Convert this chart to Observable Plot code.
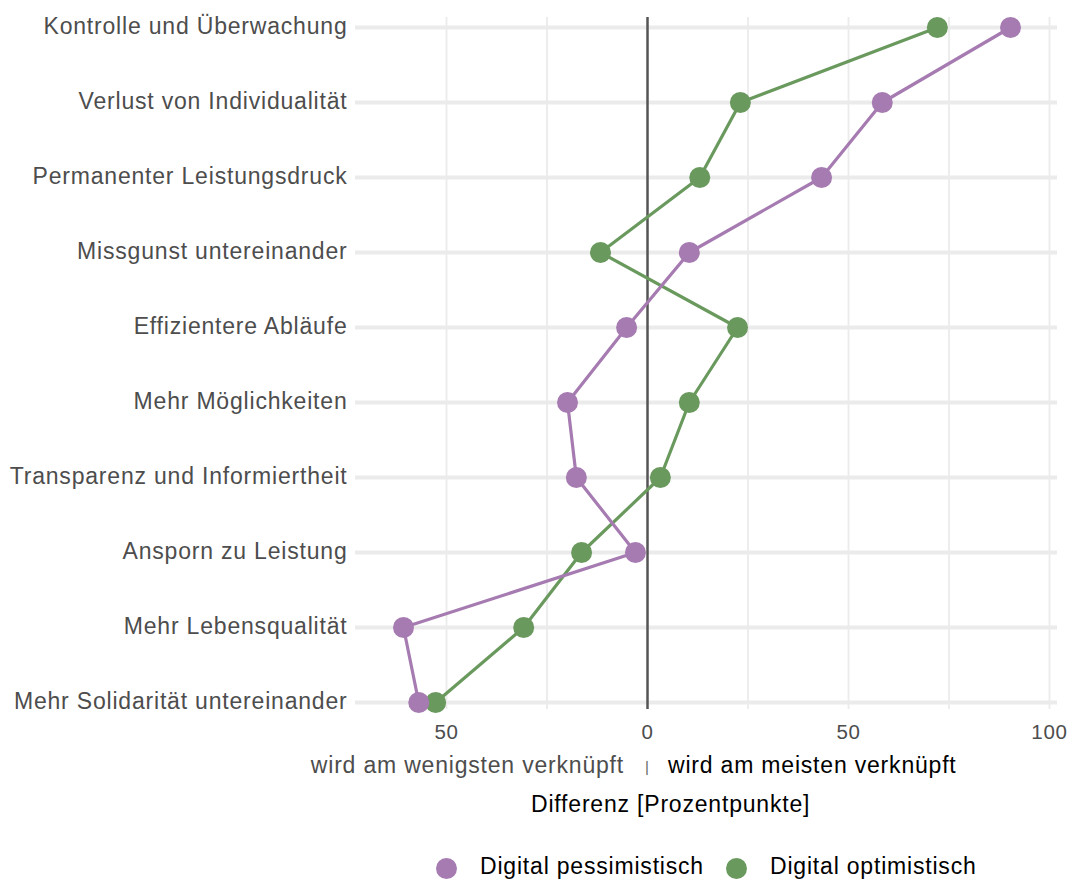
<!DOCTYPE html>
<html>
<head>
<meta charset="utf-8">
<script src="https://cdn.jsdelivr.net/npm/d3@7"></script>
<script src="https://cdn.jsdelivr.net/npm/@observablehq/plot@0.6"></script>
<style>
body { margin: 0; background: #fff; }
#chart { position: relative; width: 1072px; height: 881px; font-family: "Liberation Sans", Arial, Helvetica, sans-serif; }
#chart svg text { letter-spacing: 0.035em; }
.lbl { position: absolute; white-space: nowrap; font-size: 23px; line-height: 23px; letter-spacing: 0.035em; }
.dotk { position: absolute; width: 21px; height: 21px; border-radius: 50%; }
</style>
</head>
<body>
<div id="chart"></div>
<script>
// ---- data ----
const categories = [
  "Kontrolle und Überwachung",
  "Verlust von Individualität",
  "Permanenter Leistungsdruck",
  "Missgunst untereinander",
  "Effizientere Abläufe",
  "Mehr Möglichkeiten",
  "Transparenz und Informiertheit",
  "Ansporn zu Leistung",
  "Mehr Lebensqualität",
  "Mehr Solidarität untereinander"
];
const pessimistisch = [90.3, 58.4, 43.3, 10.4, -5.2, -19.9, -17.7, -3.0, -60.7, -56.9];
const optimistisch  = [72.1, 23.1, 13.0, -11.7, 22.4, 10.4, 3.2, -16.4, -30.8, -52.7];
const xTicks = [-50, 0, 50, 100];
const xGrid = [-50, -25, 25, 50, 75, 100];
const seriesNames = ["Digital pessimistisch", "Digital optimistisch"];
const seriesColors = ["#a67bb1", "#6a995e"];
const annotLeft = "wird am wenigsten verknüpft";
const annotRight = "wird am meisten verknüpft";
const xTitle = "Differenz [Prozentpunkte]";

// ---- tables ----
const pessData = categories.map((c, i) => ({category: c, value: pessimistisch[i]}));
const optData = categories.map((c, i) => ({category: c, value: optimistisch[i]}));

const plot = Plot.plot({
  width: 1072,
  height: 750,
  marginLeft: 355,
  marginRight: 15,
  marginTop: 17,
  marginBottom: 41,
  style: {fontFamily: "Liberation Sans, Arial, Helvetica, sans-serif", color: "#4d4d4d", background: "#fff", overflow: "visible"},
  x: {domain: [-72.64, 101.99]},
  y: {type: "point", domain: categories, range: [25, 703], padding: 0},
  marks: [
    Plot.ruleY(categories, {stroke: "#ebebeb", strokeWidth: 4.2}),
    Plot.ruleX(xGrid, {stroke: "#ebebeb", strokeWidth: 1.8}),
    Plot.ruleX([0], {stroke: "#555555", strokeWidth: 2.5}),
    Plot.axisY({tickSize: 0, tickPadding: 8, fontSize: 23, dy: -1, label: null}),
    Plot.axisX({ticks: xTicks, tickFormat: d => Math.abs(d), tickSize: 0, tickPadding: 15, fontSize: 20.5, label: null}),
    Plot.line(optData, {x: "value", y: "category", stroke: seriesColors[1], strokeWidth: 3.2}),
    Plot.line(pessData, {x: "value", y: "category", stroke: seriesColors[0], strokeWidth: 3.2}),
    Plot.dot(optData, {x: "value", y: "category", r: 10.5, fill: seriesColors[1], stroke: "none"}),
    Plot.dot(pessData, {x: "value", y: "category", r: 10.5, fill: seriesColors[0], stroke: "none"})
  ]
});

const chart = document.getElementById("chart");
plot.style.position = "absolute";
plot.style.left = "0px";
plot.style.top = "0px";
chart.appendChild(plot);

const x0 = plot.scale("x").apply(0);

function addLabel(text, styles) {
  const d = document.createElement("div");
  d.className = "lbl";
  d.textContent = text;
  Object.assign(d.style, styles);
  chart.appendChild(d);
  return d;
}

// annotation line under the axis
addLabel(annotLeft, {right: (1072 - (x0 - 23)) + "px", top: "754px", color: "#4d4d4d", textAlign: "right"});
addLabel("|", {left: (x0 - 2) + "px", top: "759px", color: "#666666", fontSize: "15px", lineHeight: "15px", letterSpacing: "0"});
addLabel(annotRight, {left: (x0 + 21) + "px", top: "754px", color: "#000"});

// axis title
addLabel(xTitle, {left: "531px", top: "793px", color: "#000"});

// legend
const legendDots = [446, 736];
const legendText = [480, 770];
seriesNames.forEach((name, i) => {
  const c = document.createElement("div");
  c.className = "dotk";
  c.style.left = (legendDots[i] - 10.5) + "px";
  c.style.top = (868 - 10.5) + "px";
  c.style.background = seriesColors[i];
  chart.appendChild(c);
  addLabel(name, {left: legendText[i] + "px", top: "855px", color: "#000"});
});
</script>
</body>
</html>
